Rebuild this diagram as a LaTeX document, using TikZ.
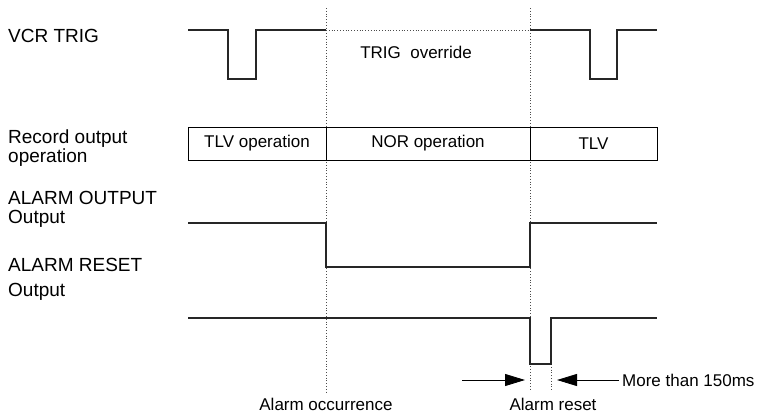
\documentclass[tikz,border=0pt]{standalone}
\usepackage{fontspec}
\setmainfont{Liberation Sans}
\usetikzlibrary{arrows.meta}

\begin{document}
\begin{tikzpicture}[x=1pt, y=-1pt, font=\fontsize{17}{19}\selectfont, sig/.style={line width=1.1pt, black!85}, guide/.style={dotted, line width=0.8pt, black!70}, label/.style={anchor=west, align=left, inner sep=0pt, font=\fontsize{19}{19}\selectfont}, opbox/.style={draw, line width=0.8pt, minimum height=33pt, inner sep=0pt}, arrow/.style={-{Triangle[length=20pt, width=12pt]}, line width=0.9pt}]
\useasboundingbox (0,0) rectangle (757,415);
\node[label] (vcr) at (8,36) {VCR TRIG};
\node[label] (rec) at (8,148) {Record output\\operation};
\node[label] (aout) at (8,209) {ALARM OUTPUT\\[0pt]Output};
\node[label] (ares) at (8,279) {ALARM RESET\\[6pt]Output};
\draw[guide] (326,8) -- (326,393);\draw[guide] (530,8) -- (530,390);\draw[guide] (551,364) -- (551,390);\draw[guide] (326,30) -- (530,30);
\draw[sig] (188,30) -- (228,30) -- (228,79) -- (256,79) -- (256,30) -- (326,30);
\draw[sig] (530,30) -- (590,30) -- (590,79) -- (617,79) -- (617,30) -- (657,30);
\node (trig) at (416,52) {TRIG\ \ override};
\node[opbox, minimum width=138pt] (tlv1) at (257,143.5) {TLV operation};
\node[opbox, minimum width=204pt] (nor) at (428,143.5) {NOR operation};
\node[opbox, minimum width=127pt] (tlv2) at (593.5,143.5) {TLV};
\draw[sig] (188,223) -- (326,223) -- (326,267) -- (530,267) -- (530,223) -- (657,223);
\draw[sig] (188,318) -- (530,318) -- (530,364) -- (551,364) -- (551,318) -- (657,318);
\coordinate (inl) at (462,380);\coordinate (tipl) at (525,380);\coordinate (tipr) at (557,380);
\node[anchor=west, inner sep=3pt] (more) at (619,380) {More than 150ms};
\draw[arrow] (inl) -- (tipl);\draw[arrow] (more.west) -- (tipr);
\node[inner sep=1pt] (occ) at (326,404) {Alarm occurrence};
\node[inner sep=1pt] (rst) at (553,404) {Alarm reset};
\end{tikzpicture}
\end{document}
